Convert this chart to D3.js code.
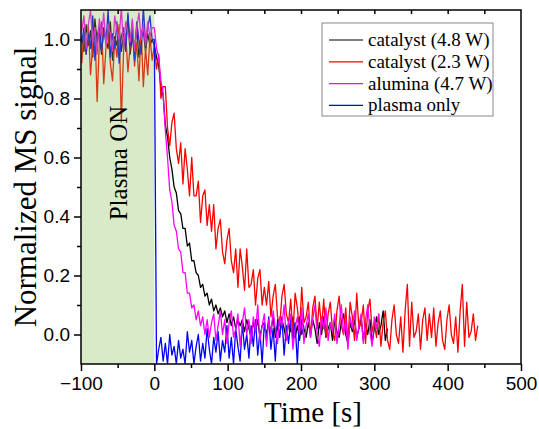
<!DOCTYPE html>
<html>
<head>
<meta charset="utf-8">
<script src="https://cdn.jsdelivr.net/npm/d3@7"></script>
<style>
  body { margin: 0; background: #fff; }
  svg { display: block; }
  .axis text { font-family: "Liberation Sans", Arial, sans-serif; font-size: 19px; fill: #000; }
  .axis line { stroke: #000; stroke-width: 1.5px; }
  .serif { font-family: "Liberation Serif", "Times New Roman", serif; fill: #000; }
</style>
</head>
<body>
<div id="chart"></div>
<script>
// sampling of the traces: first point at t0, one point every dt seconds
var t0 = -99, dt = 3;

var seriesNames = ["catalyst (4.8 W)", "catalyst (2.3 W)", "alumina (4.7 W)", "plasma only"];
var seriesColors = ["#000000", "#ff0000", "#ff00ff", "#0000ff"];

var xTicks = [-100, 0, 100, 200, 300, 400, 500];
var yTicks = [0.0, 0.2, 0.4, 0.6, 0.8, 1.0];

// catalyst 4.8 W (black)
var catalyst48 = [
  1.01, 0.96, 1.05, 0.98, 1.03, 0.94, 1.07, 0.99, 1.02, 0.95, 1.04, 1.00, 0.97, 1.06, 0.93, 1.01, 0.98,
  1.04, 0.96, 1.02, 0.99, 1.08, 0.95, 1.01, 0.97, 1.04, 0.94, 1.00, 1.03, 0.96, 1.02, 0.98, 1.00,
  0.98, 0.94, 0.91, 0.84, 0.81, 0.71, 0.67, 0.60, 0.56, 0.50, 0.48,
  0.42, 0.41, 0.36, 0.36, 0.30, 0.31, 0.25, 0.25, 0.21, 0.20,
  0.16, 0.17, 0.13, 0.14, 0.10, 0.12, 0.08, 0.10, 0.07, 0.09,
  0.06, 0.08, 0.04, 0.07, 0.03, 0.06, 0.02, 0.05, 0.03, 0.05,
  0.01, 0.05, 0.02, -0.01, 0.04, 0.01, 0.05, -0.01, 0.03, 0.04,
  0.00, 0.04, 0.01, 0.06, -0.01, 0.03, 0.00, 0.05, 0.02, -0.02,
  0.04, 0.01, 0.06, -0.01, 0.03, -0.02, 0.05, 0.02, -0.01, 0.04,
  0.00, 0.05, 0.02, -0.03, 0.04, 0.00, 0.06, -0.01, 0.02, 0.04,
  -0.02, 0.05, 0.01, -0.01, 0.04, 0.07, 0.00, -0.03, 0.04, 0.01,
  0.05, -0.01, 0.02, 0.06, -0.02, 0.04, 0.00, 0.05, -0.03, 0.02,
  0.06, 0.00, 0.03, 0.08, -0.02, 0.02
];

// catalyst 2.3 W (red)
var catalyst23 = [
  0.92, 1.02, 0.95, 1.05, 0.88, 0.98, 1.04, 0.79, 0.99, 1.06, 0.85, 0.97, 1.03, 0.92, 0.86, 1.00, 0.94,
  1.05, 0.72, 0.96, 1.02, 0.89, 0.98, 1.06, 0.91, 0.99, 0.86, 1.03, 0.84, 0.97, 0.88, 1.01, 0.93,
  0.98, 0.90, 0.95, 0.80, 0.84, 0.84, 0.70, 0.64, 0.72, 0.75, 0.63,
  0.58, 0.65, 0.51, 0.63, 0.56, 0.47, 0.60, 0.47, 0.47, 0.52,
  0.38, 0.47, 0.49, 0.37, 0.44, 0.35, 0.44, 0.29, 0.36, 0.39,
  0.28, 0.24, 0.32, 0.36, 0.25, 0.21, 0.29, 0.16, 0.29, 0.23,
  0.15, 0.29, 0.16, 0.17, 0.22, 0.10, 0.19, 0.22, 0.10, 0.16,
  0.10, 0.18, 0.06, 0.13, 0.17, 0.06, 0.03, 0.13, 0.17, 0.07,
  0.04, 0.12, 0.00, 0.14, 0.09, 0.01, 0.16, 0.04, 0.06, 0.11,
  -0.01, 0.09, 0.13, 0.02, 0.11, 0.02, 0.12, -0.01, 0.07, 0.11,
  0.01, -0.02, 0.08, 0.13, 0.03, 0.00, 0.09, -0.03, 0.11, 0.06,
  -0.02, 0.14, 0.02, 0.04, 0.10, -0.03, 0.08, 0.12, 0.01, 0.04,
  -0.01, 0.07, -0.04, 0.04, 0.08, -0.02, -0.05, 0.05, 0.10, 0.00,
  -0.03, 0.06, -0.06, 0.08, 0.17, -0.04, 0.11, -0.01, 0.01, 0.07,
  -0.05, 0.05, 0.09, -0.02, 0.07, -0.01, 0.09, -0.04, 0.04, 0.08,
  -0.02, -0.05, 0.05, 0.10, 0.00, -0.03, 0.06, -0.06, 0.08, 0.17,
  -0.04, 0.11, -0.01, 0.01, 0.07, -0.02, 0.03
];

// alumina 4.7 W (magenta)
var alumina47 = [
  1.03, 1.08, 0.97, 1.05, 1.10, 0.99, 1.04, 0.95, 1.07, 1.01, 1.09, 0.98, 1.05, 1.02, 0.96, 1.08, 1.03,
  1.00, 1.11, 0.97, 1.06, 1.02, 0.99, 1.07, 0.96, 1.04, 1.09, 1.00, 1.05, 0.98, 1.06, 1.01, 1.04,
  1.04, 0.97, 0.94, 0.86, 0.82, 0.69, 0.60, 0.49, 0.45, 0.37, 0.35,
  0.29, 0.28, 0.21, 0.21, 0.14, 0.14, 0.09, 0.10, 0.05, 0.08,
  0.03, 0.06, 0.00, 0.05, -0.01, 0.04, 0.07, -0.02, 0.03, 0.08,
  0.00, 0.05, -0.03, 0.04, 0.08, -0.01, 0.02, 0.07, -0.04, 0.04,
  0.09, 0.00, 0.05, -0.03, 0.06, 0.01, 0.10, -0.02, 0.03, 0.07,
  -0.04, 0.05, 0.00, 0.08, 0.02, -0.03, 0.06, 0.03, 0.10, -0.02,
  0.04, 0.07, -0.05, 0.02, 0.06, 0.00, 0.09, -0.03, 0.03, 0.07,
  -0.01, 0.05, 0.10, 0.00, -0.04, 0.06, 0.02, 0.09, -0.02, 0.04,
  0.01, 0.07, -0.03, 0.03, 0.10, 0.00, 0.05, -0.05, 0.06, 0.02,
  0.08, -0.02, 0.03, 0.07, -0.03, 0.05, 0.10, 0.01, -0.04, 0.06,
  0.02, 0.07
];

// plasma only (blue)
var plasmaOnly = [
  0.99, 1.04, 0.95, 1.02, 0.97, 1.08, 0.93, 1.01, 1.05, 0.96, 1.03, 0.99, 1.10, 0.94, 1.02, 0.97, 1.06,
  0.92, 1.01, 1.04, 0.96, 1.09, 0.98, 1.03, 0.93, 1.06, 1.00, 0.95, 1.11, 0.99, 1.04, 1.08, 1.00,
  1.00, -0.10, -0.05, -0.01, -0.09, -0.03, -0.10, 0.00, -0.07, -0.04, -0.10, -0.02,
  -0.08, -0.05, -0.10, 0.01, -0.06, -0.02, -0.10, -0.04, 0.00, -0.09,
  -0.03, -0.08, 0.02, -0.05, -0.10, -0.01, -0.06, 0.01, -0.09, -0.02,
  -0.06, 0.03, -0.08, -0.01, -0.10, 0.02, -0.04, -0.09, 0.04, -0.05,
  0.00, -0.08, 0.03, -0.04, 0.05, -0.07, 0.01, -0.10, 0.04, -0.02,
  0.06, -0.05, 0.02, -0.09, 0.05, -0.01, 0.06, -0.07, 0.03, -0.03,
  0.05, -0.02, 0.04, -0.10, 0.06, 0.00, 0.03
];

// drawing order: later ones lie on top
var drawOrder = [0, 1, 3, 2];
var allSeries = [catalyst48, catalyst23, alumina47, plasmaOnly];

var width = 539, height = 429;
var margin = {top: 10, right: 18, bottom: 65, left: 81};

var svg = d3.select("#chart").append("svg")
  .attr("width", width)
  .attr("height", height);

var x = d3.scaleLinear().domain([-100, 500]).range([margin.left, width - margin.right]);
var y = d3.scaleLinear().domain([-0.1, 1.1]).range([height - margin.bottom, margin.top]);

svg.append("clipPath").attr("id", "plotclip")
  .append("rect")
  .attr("x", x(-100)).attr("y", y(1.1))
  .attr("width", x(500) - x(-100)).attr("height", y(-0.1) - y(1.1));

// traces
var line = d3.line()
  .x(function(d, i) { return x(t0 + i * dt); })
  .y(function(d) { return y(d); });

var plot = svg.append("g").attr("clip-path", "url(#plotclip)");
drawOrder.forEach(function(i) {
  plot.append("path")
    .datum(allSeries[i])
    .attr("fill", "none")
    .attr("stroke", seriesColors[i])
    .attr("stroke-width", 1.3)
    .attr("stroke-linejoin", "round")
    .attr("d", line);
});

// plasma ON band, translucent over the traces
plot.append("rect")
  .attr("x", x(-100)).attr("y", y(1.1))
  .attr("width", x(0) - x(-100)).attr("height", y(-0.1) - y(1.1))
  .attr("fill", "rgb(128,185,72)")
  .attr("fill-opacity", 0.3);

svg.append("text")
  .attr("class", "serif")
  .attr("transform", "translate(" + (x(-50) + 9) + "," + 163 + ") rotate(-90)")
  .attr("text-anchor", "middle")
  .style("font-size", "25px")
  .text("Plasma ON");

// axes
var minorX = d3.range(-50, 500, 100);
var minorY = [0.1, 0.3, 0.5, 0.7, 0.9];

svg.append("g").attr("class", "axis")
  .attr("transform", "translate(0," + y(-0.1) + ")")
  .call(d3.axisBottom(x).tickValues(xTicks).tickSize(7).tickPadding(6).tickFormat(d3.format("d")))
  .call(function(g) { g.select(".domain").remove(); });

svg.append("g").attr("class", "axis")
  .attr("transform", "translate(0," + y(-0.1) + ")")
  .call(d3.axisBottom(x).tickValues(minorX).tickSize(4).tickFormat(""))
  .call(function(g) { g.select(".domain").remove(); });

svg.append("g").attr("class", "axis")
  .attr("transform", "translate(0," + y(1.1) + ")")
  .call(d3.axisBottom(x).tickValues(d3.range(-50, 500, 50)).tickSize(4).tickFormat(""))
  .call(function(g) { g.select(".domain").remove(); });

svg.append("g").attr("class", "axis")
  .attr("transform", "translate(" + x(-100) + ",0)")
  .call(d3.axisLeft(y).tickValues(yTicks).tickSize(7).tickPadding(4).tickFormat(d3.format(".1f")))
  .call(function(g) { g.select(".domain").remove(); });

svg.append("g").attr("class", "axis")
  .attr("transform", "translate(" + x(-100) + ",0)")
  .call(d3.axisLeft(y).tickValues(minorY).tickSize(4).tickFormat(""))
  .call(function(g) { g.select(".domain").remove(); });

// frame
svg.append("rect")
  .attr("x", x(-100)).attr("y", y(1.1))
  .attr("width", x(500) - x(-100)).attr("height", y(-0.1) - y(1.1))
  .attr("fill", "none")
  .attr("stroke", "#000")
  .attr("stroke-width", 1.5);

// axis titles
svg.append("text")
  .attr("class", "serif")
  .attr("x", 313)
  .attr("y", 422)
  .attr("text-anchor", "middle")
  .style("font-size", "29px")
  .text("Time [s]");

svg.append("text")
  .attr("class", "serif")
  .attr("transform", "translate(36," + y(0.5) + ") rotate(-90)")
  .attr("text-anchor", "middle")
  .style("font-size", "31px")
  .text("Normalized MS signal");

// legend
var legend = svg.append("g").attr("transform", "translate(322,23)");
legend.append("rect")
  .attr("width", 171).attr("height", 93)
  .attr("fill", "#fff")
  .attr("stroke", "#888")
  .attr("stroke-width", 1);

seriesNames.forEach(function(name, i) {
  var ly = 17 + i * 21.8;
  legend.append("line")
    .attr("x1", 7).attr("x2", 41)
    .attr("y1", ly).attr("y2", ly)
    .attr("stroke", seriesColors[i])
    .attr("stroke-width", 1.2);
  legend.append("text")
    .attr("class", "serif")
    .attr("x", 46).attr("y", ly + 6)
    .style("font-size", "19px")
    .text(name);
});
</script>
</body>
</html>
